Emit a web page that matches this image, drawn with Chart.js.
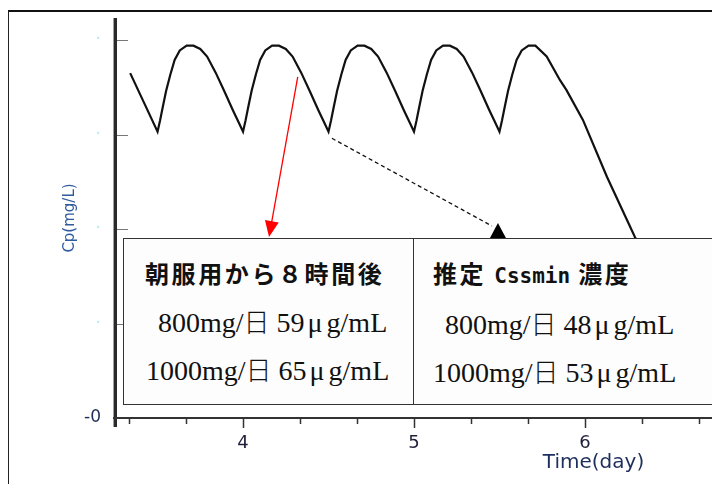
<!DOCTYPE html>
<html>
<head>
<meta charset="utf-8">
<script src="https://cdn.jsdelivr.net/npm/chart.js@4.4.1/dist/chart.umd.min.js"></script>
<style>
  html, body { margin: 0; padding: 0; background: #fff; }
  #wrap { position: relative; width: 712px; height: 484px; overflow: hidden; }
  #frame { position: absolute; left: 8px; top: 10px; width: 760px; height: 520px;
           border-top: 2px solid #111; border-left: 1px solid #222; }
  #chart { position: absolute; left: 0; top: 0; }
  .cell { position: absolute; top: 238px; height: 167px; background: #fdfdfd;
          border: 1px solid #333; box-sizing: border-box; }
  .t { position: absolute; white-space: nowrap; line-height: 40px; color: #111; }
  .head { font-family: "Noto Sans CJK JP", sans-serif; font-weight: 700; font-size: 24px; letter-spacing: 2.6px; }
  .mono { font-family: "DejaVu Sans Mono", monospace; font-weight: 700; font-size: 21px; letter-spacing: 0; }
  .dose { font-family: "Liberation Serif", "Noto Sans CJK JP", serif; font-size: 28px; }
  .dose .k { font-family: "Noto Sans CJK JP", sans-serif; font-size: 26px; font-weight: 300; }
  .dose .u { margin: 0 4px 0 3px; }
</style>
</head>
<body>
<div id="wrap">
  <div id="frame"></div>
  <canvas id="chart" width="712" height="484"></canvas>
  <div class="cell" style="left:123px;width:291px;"></div>
  <div class="cell" style="left:413px;width:340px;"></div>
  <div class="t head" style="left:145px;top:253px;">朝服用から８時間後</div>
  <div class="t dose" style="left:158px;top:301px;">800mg/<span class="k">日</span> 59<span class="u">μ</span>g/mL</div>
  <div class="t dose" style="left:146px;top:349px;">1000mg/<span class="k">日</span> 65<span class="u">μ</span>g/mL</div>
  <div class="t head" style="left:433px;top:253px;">推定 <span class="mono">Cssmin</span> 濃度</div>
  <div class="t dose" style="left:445px;top:303px;">800mg/<span class="k">日</span> 48<span class="u">μ</span>g/mL</div>
  <div class="t dose" style="left:433px;top:351px;">1000mg/<span class="k">日</span> 53<span class="u">μ</span>g/mL</div>
</div>
<script>
// concentration curve (time in days, Cp)
const timeDays = [
  3.34, 3.42,
  3.5, 3.515, 3.53, 3.55, 3.575, 3.6, 3.63, 3.67, 3.71, 3.75, 3.79, 3.84, 3.89, 3.94, 3.97,
  4.0, 4.015, 4.03, 4.05, 4.075, 4.1, 4.13, 4.17, 4.21, 4.25, 4.29, 4.34, 4.39, 4.44, 4.47,
  4.5, 4.515, 4.53, 4.55, 4.575, 4.6, 4.63, 4.67, 4.71, 4.75, 4.79, 4.84, 4.89, 4.94, 4.97,
  5.0, 5.015, 5.03, 5.05, 5.075, 5.1, 5.13, 5.17, 5.21, 5.25, 5.29, 5.34, 5.39, 5.44, 5.47,
  5.5, 5.515, 5.53, 5.55, 5.575, 5.6, 5.63, 5.67, 5.71, 5.776, 5.854, 5.892, 5.988, 6.129, 6.292, 6.5, 6.74
];
const cpValues = [
  73.0, 66.8,
  60.6, 63.0, 65.7, 69.2, 72.7, 75.8, 77.8, 78.8, 78.8, 78.1, 76.5, 73.1, 69.2, 65.2, 62.9,
  60.6, 63.0, 65.7, 69.2, 72.7, 75.8, 77.8, 78.8, 78.8, 78.1, 76.5, 73.1, 69.2, 65.2, 62.9,
  60.6, 63.0, 65.7, 69.2, 72.7, 75.8, 77.8, 78.8, 78.8, 78.1, 76.5, 73.1, 69.2, 65.2, 62.9,
  60.6, 63.0, 65.7, 69.2, 72.7, 75.8, 77.8, 78.8, 78.8, 78.1, 76.5, 73.1, 69.2, 65.2, 62.9,
  60.6, 63.0, 65.7, 69.2, 72.7, 75.8, 77.8, 78.8, 78.8, 76.5, 71.5, 69.4, 63.1, 51.0, 38.3, 24.5, 12.0
];

// axes
const xTicks = [10 / 3, 11 / 3, 4, 13 / 3, 14 / 3, 5, 16 / 3, 17 / 3, 6, 19 / 3, 20 / 3];
const yTicks = [0, 20, 40, 60, 80];
const xMin = 3.257, xMax = 6.743;
const yMin = 0, yMax = 84.66;

// annotation arrows: [day, Cp]
const redArrow = [[4.32, 72.2], [4.152, 38.3]];
const dashArrow = [[4.52, 59.2], [5.491, 38.1]];

const decor = {
  id: 'decor',
  afterDraw(chart) {
    const { ctx, chartArea: a, scales: { x, y } } = chart;
    ctx.save();

    // y axis + inward ticks
    ctx.strokeStyle = '#a0a0a0';
    ctx.lineWidth = 1;
    ctx.beginPath(); ctx.moveTo(113.5, a.top); ctx.lineTo(113.5, a.bottom + 9); ctx.stroke();
    ctx.strokeStyle = '#2a2a2a';
    ctx.lineWidth = 3;
    ctx.beginPath(); ctx.moveTo(a.left - 0.5, a.top); ctx.lineTo(a.left - 0.5, a.bottom + 9); ctx.stroke();
    ctx.strokeStyle = '#777';
    ctx.lineWidth = 1;
    yTicks.slice(1).forEach((v) => {
      const py = Math.round(y.getPixelForValue(v)) + 0.5;
      ctx.beginPath(); ctx.moveTo(a.left + 1, py); ctx.lineTo(a.left + 12, py); ctx.stroke();
    });

    // x axis + ticks
    ctx.strokeStyle = '#333';
    ctx.lineWidth = 2;
    ctx.beginPath(); ctx.moveTo(a.left - 3, a.bottom); ctx.lineTo(a.right, a.bottom); ctx.stroke();
    ctx.lineWidth = 1.5;
    xTicks.forEach((v) => {
      const px = Math.round(x.getPixelForValue(v)) + 0.5;
      const major = Math.abs(v - Math.round(v)) < 1e-6;
      ctx.beginPath(); ctx.moveTo(px, a.bottom); ctx.lineTo(px, a.bottom + (major ? 10 : 6)); ctx.stroke();
    });

    // axis titles
    ctx.fillStyle = '#1f2f5c';
    ctx.font = '20px "DejaVu Sans", sans-serif';
    ctx.textAlign = 'center';
    ctx.textBaseline = 'middle';
    ctx.fillText('Time(day)', x.getPixelForValue(6.05), 463);
    ctx.save();
    ctx.translate(70, 218);
    ctx.rotate(-Math.PI / 2);
    ctx.fillStyle = '#2e5b9e';
    ctx.font = '15px "DejaVu Sans", sans-serif';
    ctx.fillText('Cp(mg/L)', 0, 0);
    ctx.restore();

    // red arrow
    const r0x = x.getPixelForValue(redArrow[0][0]), r0y = y.getPixelForValue(redArrow[0][1]);
    const r1x = x.getPixelForValue(redArrow[1][0]), r1y = y.getPixelForValue(redArrow[1][1]);
    const ang = Math.atan2(r1y - r0y, r1x - r0x);
    ctx.strokeStyle = '#ff0000';
    ctx.fillStyle = '#ff0000';
    ctx.lineWidth = 1.3;
    ctx.beginPath();
    ctx.moveTo(r0x, r0y);
    ctx.lineTo(r1x - Math.cos(ang) * 12, r1y - Math.sin(ang) * 12);
    ctx.stroke();
    ctx.beginPath();
    ctx.moveTo(r1x, r1y);
    ctx.lineTo(r1x - Math.cos(ang) * 16 - Math.sin(ang) * 7, r1y - Math.sin(ang) * 16 + Math.cos(ang) * 7);
    ctx.lineTo(r1x - Math.cos(ang) * 16 + Math.sin(ang) * 7, r1y - Math.sin(ang) * 16 - Math.cos(ang) * 7);
    ctx.closePath();
    ctx.fill();

    // dashed line to black triangle
    const d0x = x.getPixelForValue(dashArrow[0][0]), d0y = y.getPixelForValue(dashArrow[0][1]);
    const d1x = x.getPixelForValue(dashArrow[1][0]), d1y = y.getPixelForValue(dashArrow[1][1]);
    ctx.strokeStyle = '#111';
    ctx.lineWidth = 1.3;
    ctx.setLineDash([4, 3]);
    ctx.beginPath(); ctx.moveTo(d0x, d0y); ctx.lineTo(d1x - 6, d1y - 12); ctx.stroke();
    ctx.setLineDash([]);
    ctx.fillStyle = '#000';
    ctx.beginPath();
    ctx.moveTo(d1x, d1y - 15);
    ctx.lineTo(d1x + 8, d1y);
    ctx.lineTo(d1x - 8, d1y);
    ctx.closePath();
    ctx.fill();

    ctx.restore();
  }
};

new Chart(document.getElementById('chart'), {
  type: 'line',
  data: {
    datasets: [{
      data: timeDays.map((t, i) => ({ x: t, y: cpValues[i] })),
      borderColor: '#111',
      borderWidth: 2.2,
      pointRadius: 0,
      tension: 0,
      fill: false,
      clip: false
    }]
  },
  options: {
    responsive: false,
    animation: false,
    devicePixelRatio: 1,
    layout: { padding: { top: 18, right: 0, bottom: 0, left: 0 } },
    plugins: { legend: { display: false }, tooltip: { enabled: false } },
    scales: {
      x: {
        type: 'linear',
        min: xMin,
        max: xMax,
        afterBuildTicks: (s) => { s.ticks = xTicks.map((v) => ({ value: v })); },
        afterFit: (s) => { s.height = 66; s.paddingLeft = 0; s.paddingRight = 0; },
        grid: { display: false, drawTicks: false },
        border: { display: false },
        ticks: {
          autoSkip: false,
          maxRotation: 0,
          padding: 15,
          color: '#1f1f3a',
          font: { family: "'DejaVu Sans', sans-serif", size: 18 },
          callback: (v) => (Math.abs(v - Math.round(v)) < 1e-6 ? String(Math.round(v)) : '')
        }
      },
      y: {
        min: yMin,
        max: yMax,
        afterBuildTicks: (s) => { s.ticks = yTicks.map((v) => ({ value: v })); },
        afterFit: (s) => { s.width = 116; s.paddingTop = 0; s.paddingBottom = 0; },
        grid: { display: false, drawTicks: false },
        border: { display: false },
        ticks: {
          padding: 15,
          color: (c) => (c.tick && c.tick.value === 0 ? '#1e2d5a' : '#b6e9f2'),
          font: { family: "'DejaVu Sans', sans-serif", size: 17 },
          callback: (v) => (v === 0 ? '-0' : '·')
        }
      }
    }
  },
  plugins: [decor]
});
</script>
</body>
</html>
